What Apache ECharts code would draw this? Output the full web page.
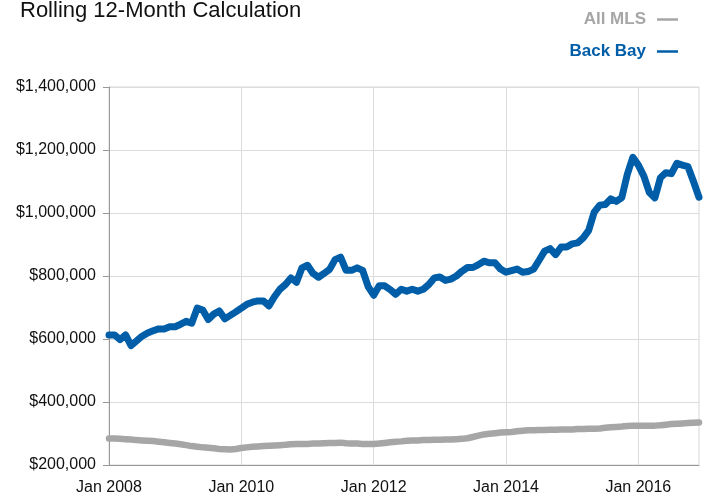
<!DOCTYPE html>
<html>
<head>
<meta charset="utf-8">
<script src="https://cdn.jsdelivr.net/npm/echarts@6/dist/echarts.min.js"></script>
<style>
html,body{margin:0;padding:0;background:#fff;}
#chart{width:703px;height:496px;}
</style>
</head>
<body>
<div id="chart"></div>
<script>
// ---- data ----
const years = [2008, 2009, 2010, 2011, 2012, 2013, 2014, 2015, 2016];
const monthNames = ['Jan','Feb','Mar','Apr','May','Jun','Jul','Aug','Sep','Oct','Nov','Dec'];
const yTicks = [200000, 400000, 600000, 800000, 1000000, 1200000, 1400000];

// Back Bay rolling 12-month median ($ thousands), Jan 2008 – Dec 2016
const backBay = [
  613, 613, 598, 613, 579, 594, 609, 619, 626, 632, 632, 639,
  639, 647, 656, 650, 698, 692, 662, 679, 689, 664, 675, 686,
  698, 710, 717, 721, 721, 705, 734, 758, 773, 794, 780, 826,
  834, 808, 796, 808, 821, 852, 860, 818, 818, 826, 818, 766,
  739, 769, 769, 757, 742, 758, 752, 758, 752, 758, 773, 794,
  797, 786, 790, 800, 815, 827, 827, 836, 847, 842, 842, 822,
  812, 817, 822, 812, 814, 822, 850, 879, 887, 868, 892, 892,
  902, 905, 921, 945, 1003, 1025, 1027, 1045, 1037, 1049, 1123, 1177,
  1152, 1117, 1065, 1048, 1112, 1128, 1125, 1158, 1152, 1147, 1100, 1050
];
// All MLS rolling 12-month median ($ thousands)
const allMLS = [
  284, 284, 283, 282, 281, 279, 278, 277, 276, 274, 272, 270,
  268, 266, 263, 260, 258, 256, 255, 253, 251, 250, 249, 251,
  254, 256, 258, 259, 260, 261, 262, 263, 264, 266, 267, 267,
  267, 268, 268, 269, 270, 270, 271, 269, 268, 268, 267, 267,
  267, 268, 270, 272, 274, 275, 277, 278, 278, 279, 279, 280,
  280, 281, 281, 282, 283, 285, 289, 293, 297, 299, 301, 303,
  304, 305, 307, 309, 310, 310, 311, 311, 312, 312, 313, 313,
  313, 314, 314, 315, 315, 316, 318, 320, 321, 322, 324, 325,
  325, 325, 325, 325, 326, 328, 330, 331, 332, 333, 334, 335
];

const categories = [];
years.forEach(y => monthNames.forEach(m => categories.push(m + ' ' + y)));

const BLUE = '#005EA8';
const GRAY = '#A6A6A6';
const FONT = '"Liberation Sans", Arial, Helvetica, sans-serif';

const everyTwoYears = (idx) => idx % 24 === 0;

const chart = echarts.init(document.getElementById('chart'), null, {renderer: 'canvas'});
chart.setOption({
  animation: false,
  backgroundColor: '#ffffff',
  title: {
    text: 'Rolling 12-Month Calculation',
    left: 15,
    top: -5,
    textStyle: {fontFamily: FONT, fontSize: 22, fontWeight: 'normal', color: '#111'}
  },
  legend: {
    orient: 'vertical',
    right: 20,
    top: 6,
    align: 'right',
    itemGap: 15,
    icon: 'rect',
    itemWidth: 21,
    itemHeight: 2.5,
    textStyle: {fontFamily: FONT, fontSize: 17, fontWeight: 'bold', padding: [0, 6, 0, 0]},
    data: [
      {name: 'All MLS', textStyle: {color: GRAY}},
      {name: 'Back Bay', textStyle: {color: BLUE}}
    ]
  },
  grid: {
    left: 109, right: 4, top: 87, bottom: 28,
    show: true, borderColor: '#d6d6d6', borderWidth: 1,
    containLabel: false
  },
  xAxis: {
    type: 'category',
    data: categories,
    boundaryGap: false,
    axisLine: {show: true, lineStyle: {color: '#999'}},
    axisTick: {show: false},
    axisLabel: {
      interval: (idx) => everyTwoYears(idx),
      margin: 15,
      fontFamily: FONT, fontSize: 16, color: '#111'
    },
    splitLine: {show: true, interval: (idx) => everyTwoYears(idx), lineStyle: {color: '#dcdcdc', width: 1}}
  },
  yAxis: {
    type: 'value',
    min: yTicks[0],
    max: yTicks[yTicks.length - 1],
    interval: 200000,
    axisLine: {show: true, lineStyle: {color: '#999'}},
    axisTick: {show: true, length: 6, lineStyle: {color: '#999'}},
    axisLabel: {
      margin: 13,
      fontFamily: FONT, fontSize: 16, color: '#111',
      formatter: (v) => '$' + v.toLocaleString('en-US')
    },
    splitLine: {show: true, lineStyle: {color: '#dcdcdc', width: 1}}
  },
  series: [
    {
      name: 'All MLS',
      type: 'line',
      data: allMLS.map(v => v * 1000),
      symbol: 'none',
      smooth: false,
      lineStyle: {color: GRAY, width: 6.5, join: 'round', cap: 'round'},
      itemStyle: {color: GRAY},
      z: 3
    },
    {
      name: 'Back Bay',
      type: 'line',
      data: backBay.map(v => v * 1000),
      symbol: 'none',
      smooth: false,
      lineStyle: {color: BLUE, width: 7, join: 'round', cap: 'round'},
      itemStyle: {color: BLUE},
      z: 4
    }
  ]
});
</script>
</body>
</html>
